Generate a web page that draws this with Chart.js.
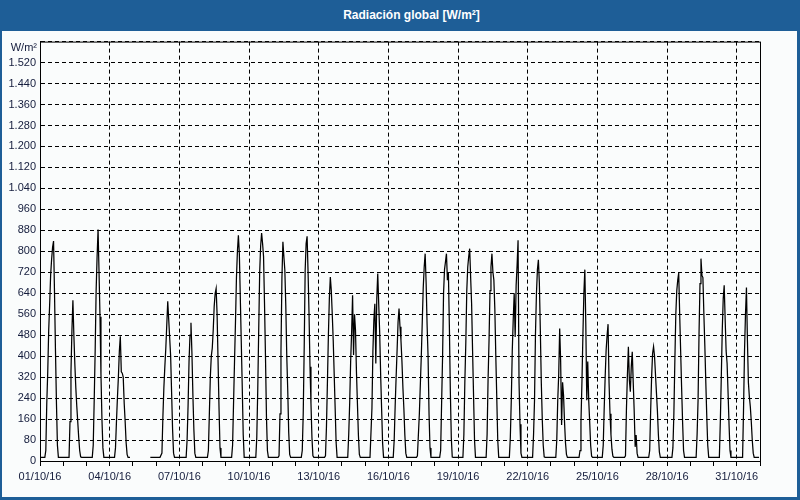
<!DOCTYPE html>
<html lang="es">
<head>
<meta charset="utf-8">
<title>Radiación global</title>
<script src="https://cdn.jsdelivr.net/npm/chart.js@4.4.1/dist/chart.umd.min.js"></script>
<style>
    html, body { margin: 0; padding: 0; background: #1e5e97; }
    #ventana { position: relative; width: 800px; height: 500px; background: #1e5e97; overflow: hidden; }
    #titulo {
        position: absolute; left: 0; top: 0; width: 800px; height: 31px;
        box-sizing: border-box; padding-left: 23px; text-align: center;
        color: #fff; font-family: "Liberation Sans", Arial, sans-serif;
        font-weight: bold; font-size: 12px; line-height: 31px;
    }
    #cuerpo { position: absolute; left: 2px; top: 31px; width: 795px; height: 466px; background: #fafcfc; }
    canvas { display: block; }
</style>
</head>
<body>
<div id="ventana">
    <div id="titulo">Radiación global [W/m²]</div>
    <div id="cuerpo"><canvas id="grafico" width="795" height="466"></canvas></div>
</div>
<script>
// etiquetas del eje X (cada 3 días)
const fechas = ['01/10/16', '04/10/16', '07/10/16', '10/10/16', '13/10/16', '16/10/16',
                '19/10/16', '22/10/16', '25/10/16', '28/10/16', '31/10/16'];

// radiación global horaria [W/m²], un array de 24 horas por día (octubre 2016)
const radiacion = [
    [14,14,14,14,14,14,40,220,340,500,600,710,770,815,839,640,420,220,60,14,14,14,14,14],
    [14,14,14,14,14,14,14,150,340,500,613,480,370,280,210,150,90,40,16,14,14,14,14,14],
    [14,14,14,14,14,14,14,60,230,420,650,780,883,720,550,330,160,50,14,14,14,14,14,14],
    [14,14,14,14,14,14,50,150,240,320,420,476,340,335,320,220,150,70,25,14,14,14,null,null],
    [null,null,null,null,null,null,null,null,null,null,null,null,null,null,null,null,null,null,14,14,14,14,14,14],
    [14,14,14,14,14,14,30,170,280,360,430,520,609,540,470,400,260,120,30,14,14,14,14,14],
    [14,14,14,14,14,14,14,14,80,210,380,480,527,410,250,120,30,14,14,14,14,14,14,14],
    [14,14,14,14,14,14,40,180,320,400,430,500,590,640,658,560,380,200,50,14,14,14,14,14],
    [14,14,14,14,14,14,14,60,220,380,530,700,800,861,790,620,450,280,100,14,14,14,14,14],
    [14,14,14,14,14,14,14,14,90,270,500,720,820,870,830,780,600,400,170,40,14,14,14,14],
    [14,14,14,14,14,14,14,20,180,420,700,836,780,728,590,400,270,110,25,14,14,14,14,14],
    [14,14,14,14,14,14,14,40,180,430,728,830,857,720,560,360,220,90,20,14,14,14,14,14],
    [14,14,14,14,14,14,14,20,130,300,480,620,702,650,560,460,330,200,70,14,14,14,14,14],
    [14,14,14,14,14,14,14,100,220,380,490,632,404,560,500,340,220,100,25,14,14,14,14,14],
    [14,14,14,14,14,14,14,200,420,540,600,372,620,715,600,490,330,200,70,14,14,14,14,14],
    [14,14,14,14,14,14,80,210,320,423,530,582,512,460,380,280,200,100,30,14,14,14,14,14],
    [14,14,14,14,14,14,20,100,180,290,400,530,660,740,791,680,520,400,180,50,14,14,14,14],
    [14,14,14,14,14,14,40,220,400,640,730,760,791,690,720,520,270,90,15,14,14,14,14,14],
    [14,14,14,14,14,14,100,300,450,650,740,780,810,700,600,420,250,80,14,14,14,14,14,14],
    [14,14,14,14,14,14,100,310,460,650,740,791,721,690,580,400,240,80,14,14,14,14,14,14],
    [14,14,14,14,14,14,90,232,420,540,640,473,670,747,842,300,140,30,14,14,14,14,14,14],
    [14,14,14,14,14,14,100,232,487,640,730,768,680,500,300,160,60,16,14,14,14,14,14,14],
    [14,14,14,14,14,14,80,232,330,505,380,137,300,250,150,70,25,14,14,14,14,14,14,14],
    [14,14,14,14,14,14,40,150,300,480,640,730,520,232,380,232,150,60,18,14,14,14,14,14],
    [14,14,14,14,14,14,60,200,320,423,480,522,300,180,100,45,18,14,14,14,14,14,14,14],
    [14,14,14,14,14,20,200,330,436,309,264,360,417,300,190,54,99,30,14,14,14,14,14,14],
    [14,14,14,14,14,14,40,190,320,410,436,400,330,260,190,100,35,14,14,14,14,14,14,14],
    [14,14,14,14,14,14,50,180,380,560,650,690,717,560,420,280,150,40,14,14,14,14,14,14],
    [14,14,14,14,14,14,14,100,232,487,677,772,709,700,560,440,300,170,60,14,14,14,14,14],
    [14,14,14,14,14,14,14,150,320,500,620,670,540,420,372,260,140,40,14,14,14,14,14,14],
    [14,14,14,14,14,14,14,200,420,560,662,461,300,245,207,150,80,30,14,14,14,14,14,14]
];

const colorTexto = '#141c3c';
const fuente = { family: '"Liberation Sans", Arial, sans-serif', size: 11 };

// puntos {x: hora desde el 01/10 00:00, y: W/m²}
const puntos = [];
radiacion.forEach((dia, d) => {
    dia.forEach((valor, h) => {
        puntos.push({ x: d * 24 + h, y: valor });
    });
});

// una marca por día, etiqueta cada 3 días
const marcasX = [];
for (let h = 0; h <= 744; h += 24) marcasX.push(h);

function formatoMiles(v) {
    if (v < 1000) return String(v);
    return Math.floor(v / 1000) + '.' + String(v % 1000).padStart(3, '0');
}

// marco del área de trazado y unidad del eje Y
const marco = {
    id: 'marco',
    afterDraw(chart) {
        const { ctx, chartArea: a } = chart;
        ctx.save();
        ctx.strokeStyle = '#000';
        ctx.lineWidth = 1;
        ctx.setLineDash([]);
        ctx.strokeRect(a.left + 0.5, a.top + 0.5, a.right - a.left, a.bottom - a.top);
        ctx.fillStyle = colorTexto;
        ctx.font = '11px "Liberation Sans", Arial, sans-serif';
        ctx.textAlign = 'right';
        ctx.textBaseline = 'middle';
        ctx.fillText('W/m²', a.left - 3, a.top + 6);
        ctx.restore();
    }
};

new Chart(document.getElementById('grafico'), {
    type: 'line',
    data: {
        datasets: [{
            data: puntos,
            borderColor: '#000',
            borderWidth: 1.25,
            pointRadius: 0,
            tension: 0,
            fill: false,
            spanGaps: false
        }]
    },
    options: {
        responsive: false,
        animation: false,
        devicePixelRatio: 1,
        layout: { padding: { top: 9, right: 37, left: 0, bottom: 0 } },
        plugins: {
            legend: { display: false },
            tooltip: { enabled: false }
        },
        scales: {
            x: {
                type: 'linear',
                min: 0,
                max: 744,
                afterBuildTicks: s => { s.ticks = marcasX.map(v => ({ value: v })); },
                afterFit: s => { s.height = 36; },
                ticks: {
                    autoSkip: false,
                    maxRotation: 0,
                    padding: 4,
                    color: colorTexto,
                    font: fuente,
                    callback: v => (v % 72 === 0 ? fechas[v / 72] : '')
                },
                grid: {
                    color: c => (c.tick && c.tick.value % 72 === 0 && c.tick.value > 0 ? '#000' : 'rgba(0,0,0,0)'),
                    tickColor: '#000',
                    tickLength: 5,
                    tickBorderDash: [],
                    borderDash: [4, 3],
                    lineWidth: 1
                },
                border: { color: '#000', dash: [4, 3] }
            },
            y: {
                min: 0,
                max: 1600,
                afterFit: s => { s.width = 38; },
                ticks: {
                    stepSize: 80,
                    padding: 4,
                    color: colorTexto,
                    font: fuente,
                    callback: v => (v === 1600 ? '' : formatoMiles(v))
                },
                grid: {
                    color: '#000',
                    drawTicks: false,
                    borderDash: [4, 3],
                    lineWidth: 1
                },
                border: { color: '#000', dash: [4, 3] }
            }
        }
    },
    plugins: [marco]
});
</script>
</body>
</html>
